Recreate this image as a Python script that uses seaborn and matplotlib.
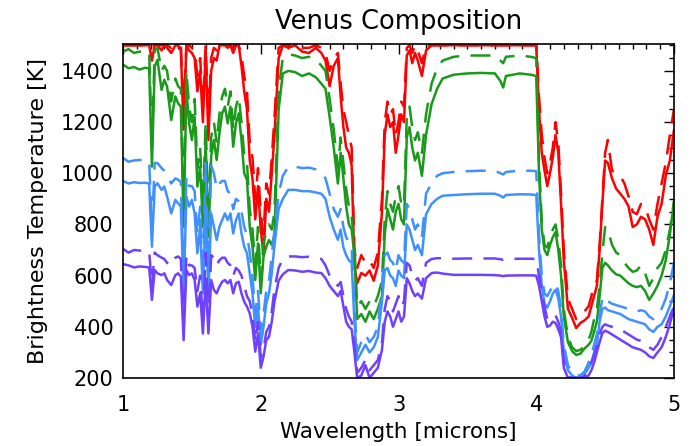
import numpy as np
import pandas as pd
import matplotlib
matplotlib.use("Agg")
import matplotlib.pyplot as plt
from matplotlib.ticker import MultipleLocator
import seaborn as sns

wavelength = [
    1.00, 1.04, 1.08, 1.12, 1.16, 1.19,
    1.21, 1.23, 1.25, 1.28, 1.30, 1.32, 1.35, 1.38, 1.40, 1.42,
    1.44, 1.46, 1.48, 1.50, 1.52, 1.54, 1.56, 1.58, 1.60, 1.62,
    1.64, 1.66, 1.68, 1.70, 1.72, 1.74, 1.76, 1.78, 1.80, 1.82,
    1.84, 1.86, 1.88, 1.90, 1.92, 1.94, 1.96, 1.98, 2.00, 2.02,
    2.04, 2.06, 2.08, 2.10,
    2.13, 2.16, 2.20, 2.25, 2.30, 2.35, 2.40, 2.44, 2.47, 2.50,
    2.53, 2.56, 2.58, 2.60, 2.62, 2.64, 2.66, 2.68, 2.70, 2.73,
    2.76, 2.79, 2.82, 2.85, 2.88, 2.90, 2.92, 2.94, 2.96, 2.98,
    3.00, 3.02, 3.04, 3.06, 3.08, 3.10, 3.12, 3.14, 3.17, 3.20,
    3.24, 3.28, 3.32,
    3.40, 3.50, 3.60, 3.70, 3.74, 3.76, 3.78, 3.88, 3.96, 4.00,
    4.02, 4.04, 4.06, 4.08, 4.10, 4.12, 4.14, 4.16, 4.18, 4.20,
    4.23, 4.26, 4.29, 4.32, 4.35, 4.38, 4.40, 4.42, 4.44, 4.46,
    4.48, 4.50, 4.52, 4.55, 4.58, 4.61, 4.64, 4.67, 4.70, 4.73,
    4.76, 4.79, 4.82, 4.85, 4.88, 4.91, 4.94, 4.97, 5.00]

red_solid = [
    1500, 1500, 1500, 1500, 1500, 1500,
    1440, 1500, 1500, 1480, 1500, 1490, 1470, 1500, 1500, 1480,
    1170, 1500, 1480, 1470, 1450, 1320, 1400, 1200, 1480, 1130,
    1400, 1450, 1440, 1500, 1500, 1500, 1490, 1500, 1470, 1500,
    1500, 1420, 1320, 1250, 1050, 980, 820, 950, 780, 680,
    900, 850, 1000, 1150,
    1450, 1500, 1490, 1500, 1475, 1470, 1490, 1470, 1440, 1340,
    1420, 1450, 1300, 1180, 1100, 1080, 1030, 640, 570, 610,
    600, 620, 580, 640, 850, 1150, 1230, 1180, 1200, 1080,
    1150, 1230, 1200, 1460, 1480, 1430, 1470, 1440, 1380, 1480,
    1500, 1500, 1500,
    1500, 1500, 1500, 1500, 1500, 1500, 1500, 1500, 1500, 1500,
    1250, 1080, 1010, 950, 1000, 1060, 1150, 1080, 880, 660,
    470, 435, 395, 415, 425, 440, 480, 520, 560, 700,
    880, 1050, 1040, 980, 940, 920, 900, 870, 790, 800,
    830, 820, 780, 720, 830, 880, 990, 1050, 1170]

red_dashed = [
    1500, 1500, 1500, 1500, 1500, 1500,
    1490, 1500, 1500, 1500, 1500, 1500, 1490, 1500, 1500, 1500,
    1230, 1500, 1500, 1490, 1480, 1380, 1450, 1260, 1500, 1200,
    1450, 1490, 1480, 1500, 1500, 1500, 1500, 1500, 1490, 1500,
    1500, 1460, 1380, 1320, 1120, 1060, 900, 1020, 840, 760,
    960, 920, 1060, 1220,
    1490, 1500, 1500, 1500, 1490, 1490, 1500, 1490, 1470, 1400,
    1450, 1470, 1350, 1250, 1200, 1150, 1100, 700, 630, 680,
    650, 660, 630, 690, 900, 1200, 1280, 1230, 1250, 1150,
    1200, 1280, 1260, 1490, 1500, 1470, 1500, 1480, 1430, 1500,
    1500, 1500, 1500,
    1500, 1500, 1500, 1500, 1500, 1500, 1500, 1500, 1500, 1500,
    1300, 1150, 1060, 1000, 1040, 1100, 1200, 1120, 920, 700,
    510, 470, 430, 440, 460, 480, 520, 560, 580, 720,
    900, 1080, 1130, 1010, 1000, 990, 960, 910, 850, 840,
    880, 870, 820, 780, 880, 960, 1040, 1150, 1250]

green_solid = [
    1425, 1410, 1415, 1405, 1412, 1410,
    1026, 1417, 1443, 1326, 1365, 1339, 1208, 1300, 1273, 1260,
    791, 1326, 1195, 1130, 1221, 948, 1026, 791, 1130, 752,
    1065, 1130, 1052, 1156, 1234, 1260, 1195, 1260, 1104, 1195,
    1234, 1130, 1000, 974, 791, 713, 583, 726, 531, 674,
    713, 739, 720, 760,
    1250, 1390, 1400, 1395, 1380, 1390, 1375, 1350, 1330, 1220,
    1100, 960, 1080, 980, 870, 800, 780, 680, 430, 450,
    420, 460, 430, 470, 520, 760, 860, 820, 780, 850,
    880, 820, 800, 1140, 1180, 1100, 1050, 1080, 990, 1150,
    1270, 1330, 1370,
    1385, 1390, 1392, 1390, 1360, 1335, 1380, 1390, 1385, 1380,
    1000, 780, 700, 680, 720, 750, 770, 700, 600, 440,
    340, 305, 290, 295, 315, 330, 345, 380, 420, 520,
    630, 650, 640, 620, 605, 600, 585, 570, 560, 555,
    560, 540, 505, 530, 560, 600, 660, 760, 890]

green_dashed = [
    1475, 1485, 1470, 1475, 1478, 1475,
    1100, 1480, 1490, 1400, 1420, 1400, 1280, 1370, 1340, 1330,
    860, 1400, 1260, 1200, 1290, 1020, 1100, 860, 1200, 820,
    1140, 1200, 1120, 1230, 1300, 1330, 1260, 1320, 1170, 1260,
    1300, 1200, 1070, 1040, 860, 780, 640, 790, 580, 730,
    770, 800, 780, 850,
    1330, 1450, 1465, 1460, 1450, 1455, 1445, 1420, 1400, 1290,
    1170, 1020, 1140, 1040, 940, 870, 830, 720, 480, 500,
    470, 500, 480, 520, 580, 820, 930, 880, 850, 910,
    950, 880, 870, 1220, 1260, 1180, 1130, 1160, 1080, 1230,
    1350, 1410, 1440,
    1455, 1460, 1460, 1460, 1440, 1430, 1455, 1460, 1455, 1450,
    1050, 810, 720, 710, 750, 780, 800, 740, 640, 470,
    360, 320, 305, 310, 325, 350, 380, 430, 470, 560,
    690, 790, 780, 720, 690, 680, 650, 630, 615, 620,
    640, 610, 560, 590, 630, 650, 700, 780, 890]

blue_solid = [
    970, 960, 965, 962, 963, 960,
    713, 948, 961, 935, 948, 909, 843, 896, 883, 870,
    531, 909, 870, 896, 843, 687, 791, 531, 870, 518,
    843, 791, 739, 791, 817, 843, 817, 843, 765, 817,
    843, 765, 713, 687, 609, 531, 400, 479, 330, 400,
    492, 531, 610, 720,
    860, 900, 935, 935, 930, 930, 925, 920, 900, 830,
    780, 740, 780, 710, 680, 660, 650, 420, 270, 300,
    330, 300, 320, 360, 500, 620, 630, 600, 590, 560,
    620, 600, 590, 800, 780, 740, 700, 720, 680, 840,
    880, 900, 912,
    915, 918, 920, 920, 912, 905, 915, 918, 917, 915,
    700, 560, 490, 475, 500, 530, 545, 510, 440, 300,
    230, 210, 200, 205, 215, 240, 260, 300, 330, 420,
    470, 475, 465, 460, 455, 450, 440, 430, 425, 420,
    415, 410, 390, 380, 400, 410, 440, 480, 525]

blue_dashed = [
    1060, 1045, 1050, 1052, 1050, 1048,
    780, 1040, 1040, 1020, 1010, 990, 960, 980, 975, 965,
    600, 990, 950, 950, 930, 760, 870, 590, 1040, 580,
    1030, 1000, 940, 960, 970, 970, 930, 920, 860, 900,
    890, 850, 790, 760, 690, 600, 450, 540, 380, 450,
    540, 580, 680, 780,
    920, 990, 1025, 1026, 1020, 1022, 1015, 1005, 980, 920,
    860, 830, 860, 790, 750, 730, 710, 480, 300, 340,
    370, 340, 360, 400, 560, 680, 690, 660, 650, 620,
    680, 660, 650, 880, 860, 820, 780, 800, 750, 920,
    960, 990, 1000,
    1005, 1008, 1010, 1010, 1000, 995, 1005, 1010, 1010, 1008,
    760, 600, 530, 520, 540, 560, 570, 540, 470, 330,
    250, 220, 210, 210, 225, 260, 290, 330, 370, 450,
    510, 520, 500, 490, 485, 480, 475, 470, 465, 460,
    465, 460, 440, 430, 450, 470, 510, 570, 650]

purple_solid = [
    645, 640, 632, 636, 634, 632,
    505, 622, 609, 602, 609, 583, 563, 602, 609, 596,
    348, 622, 602, 609, 583, 479, 531, 374, 583, 374,
    583, 544, 531, 557, 576, 583, 570, 583, 531, 570,
    576, 531, 498, 479, 453, 401, 303, 374, 240, 283,
    348, 361, 420, 500,
    580, 605, 622, 620, 615, 618, 612, 610, 590, 560,
    540, 520, 540, 480, 420, 400, 390, 300, 200, 210,
    250, 200, 220, 240, 310, 420, 460, 440, 400, 430,
    460, 420, 440, 590, 570, 540, 520, 530, 510, 590,
    610, 612, 608,
    603, 603, 603, 602, 600, 598, 600, 601, 601, 600,
    560, 500, 440, 400, 405, 420, 415, 390, 360, 240,
    200, 200, 200, 200, 200, 210, 230, 260, 300, 340,
    375, 385, 380, 370, 360, 350, 340, 330, 320, 315,
    310, 300, 285, 278, 300, 320, 360, 410, 475]

purple_dashed = [
    705, 690, 700, 698, 697, 695,
    560, 690, 680, 670, 665, 650, 640, 670, 675, 665,
    400, 680, 640, 640, 630, 540, 600, 420, 690, 420,
    680, 670, 640, 660, 670, 670, 650, 640, 600, 630,
    620, 600, 560, 520, 500, 450, 340, 420, 280, 310,
    380, 400, 460, 550,
    630, 665, 675, 675, 672, 674, 670, 665, 640, 600,
    580, 560, 575, 520, 470, 440, 420, 330, 220, 240,
    270, 230, 250, 270, 340, 470, 520, 500, 460, 490,
    520, 480, 500, 650, 640, 600, 580, 590, 560, 650,
    665, 668, 668,
    666, 667, 667, 667, 664, 662, 665, 666, 666, 665,
    600, 540, 480, 430, 440, 450, 445, 420, 380, 260,
    205, 200, 200, 200, 205, 230, 260, 290, 330, 370,
    400, 410, 405, 400, 395, 390, 380, 370, 360, 350,
    345, 340, 320, 310, 330, 360, 400, 440, 480]

x_ticks = [1, 2, 3, 4, 5]
y_ticks = [200, 400, 600, 800, 1000, 1200, 1400]

series = {
    ("red", "solid"): red_solid, ("red", "dashed"): red_dashed,
    ("green", "solid"): green_solid, ("green", "dashed"): green_dashed,
    ("blue", "solid"): blue_solid, ("blue", "dashed"): blue_dashed,
    ("purple", "solid"): purple_solid, ("purple", "dashed"): purple_dashed,
}
frames = []
for (model, kind), vals in series.items():
    assert len(vals) == len(wavelength), (model, kind, len(vals))
    frames.append(pd.DataFrame({"wavelength": wavelength, "T": vals,
                                "model": model, "kind": kind}))
df = pd.concat(frames, ignore_index=True)

sns.set_style("white")
plt.rcParams['font.family'] = ['DejaVu Sans']
plt.rcParams['text.color'] = 'black'
plt.rcParams['axes.labelcolor'] = 'black'
plt.rcParams['xtick.color'] = 'black'
plt.rcParams['ytick.color'] = 'black'

fig = plt.figure(figsize=(6.91, 4.46), dpi=100)
ax = fig.add_axes([123/691, 68/446, (674-123)/691, (378-44)/446])

palette = {"red": "#ff0000", "green": "#1a9a1a", "blue": "#4090ff", "purple": "#7040ff"}
sns.lineplot(data=df, x="wavelength", y="T", hue="model", style="kind",
             hue_order=["red", "green", "blue", "purple"],
             style_order=["solid", "dashed"],
             palette=palette, dashes={"solid": "", "dashed": (8, 4.5)},
             estimator=None, sort=False, legend=False, linewidth=1.8, ax=ax)

ax.set_xlim(1, 5)
ax.set_ylim(200, 1505)
ax.set_xticks(x_ticks)
ax.set_xticklabels([str(v) for v in x_ticks])
ax.set_yticks(y_ticks)
ax.set_yticklabels([str(v) for v in y_ticks])
ax.xaxis.set_minor_locator(MultipleLocator(0.1))
ax.yaxis.set_minor_locator(MultipleLocator(50))
ax.tick_params(which="both", direction="in", top=True, right=True, color="black",
               labelcolor="black")
ax.tick_params(which="major", length=7, width=1.0, labelsize=15)
ax.tick_params(which="minor", length=3.6, width=1.0)
ax.tick_params(axis="x", which="major", pad=12)
ax.tick_params(axis="y", which="major", pad=7)
for s in ax.spines.values():
    s.set_visible(True)
    s.set_color("black")
    s.set_linewidth(1.2)

ax.set_title("Venus Composition", fontsize=18.5, pad=11, color="black")
ax.set_xlabel("Wavelength [microns]", fontsize=15.5, labelpad=5, color="black")
ax.set_ylabel("Brightness Temperature [K]", fontsize=16, labelpad=9, color="black")

fig.savefig("out.png", dpi=100)
